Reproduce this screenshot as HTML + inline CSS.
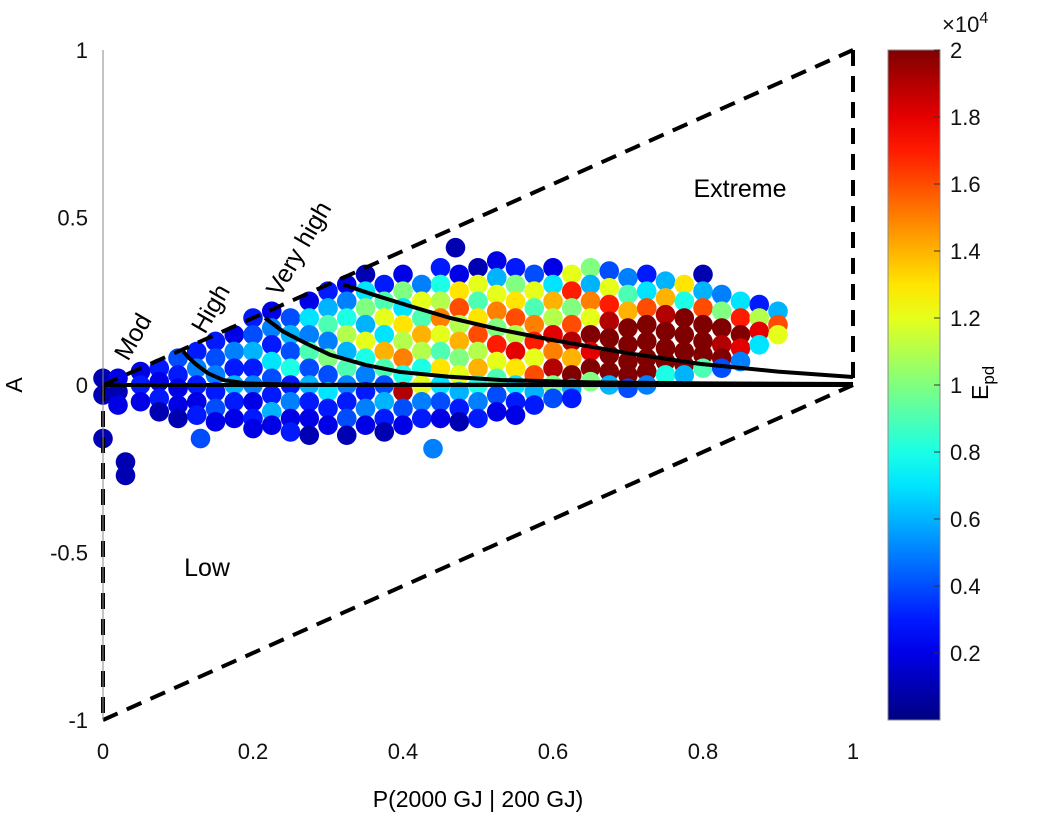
<!DOCTYPE html>
<html><head><meta charset="utf-8"><style>
html,body{margin:0;padding:0;background:#fff;}
svg{display:block;font-family:"Liberation Sans",Arial,sans-serif;}
</style></head><body>
<svg id="chart" width="1057" height="817" viewBox="0 0 1057 817">
<g id="dots"></g>
<g id="lines"></g>
<g id="axes"></g>
<g id="cbar"></g>
</svg>
<script>
const xTicks=[0,0.2,0.4,0.6,0.8,1];
const xTickLabels=["0","0.2","0.4","0.6","0.8","1"];
const yTicks=[-1,-0.5,0,0.5,1];
const yTickLabels=["-1","-0.5","0","0.5","1"];
const cbTicks=[0.2,0.4,0.6,0.8,1,1.2,1.4,1.6,1.8,2];
const cbTickLabels=["0.2","0.4","0.6","0.8","1","1.2","1.4","1.6","1.8","2"];
const curveMod=[[0.107,0.1],[0.115,0.08],[0.125,0.06],[0.14,0.035],[0.16,0.015],[0.19,0.005],[0.25,0.001],[1,0]];
const curveHigh=[[0.216,0.2],[0.24,0.16],[0.27,0.125],[0.303,0.09],[0.35,0.06],[0.396,0.039],[0.46,0.025],[0.53,0.015],[0.65,0.008],[0.8,0.005],[1,0.003]];
const curveVery=[[0.32,0.3],[0.36,0.27],[0.41,0.235],[0.463,0.2],[0.53,0.165],[0.6,0.134],[0.7,0.095],[0.796,0.063],[0.9,0.04],[1,0.024]];
const baseline=[[0,0],[1,0]];
const dashUpper=[[0,0],[1,1]];
const dashLower=[[0,-1],[1,0]];
const dashRight=[[1,1],[1,0]];
const dashLeft=[[0,0],[0,-1]];
const points=[
[0,0.02,0.1],[0,-0.03,0.1],[0,-0.16,0.1],[0.02,0.02,0.2],[0.02,-0.02,0.1],[0.02,-0.06,0.2],[0.03,-0.23,0.1],[0.03,-0.27,0.1],
[0.05,0.04,0.2],[0.05,0,0.3],[0.05,-0.05,0.2],
[0.075,0.05,0.3],[0.075,0.01,0.2],[0.075,-0.04,0.3],[0.075,-0.08,0.1],
[0.1,0.08,0.4],[0.1,0.03,0.3],[0.1,-0.01,0.2],[0.1,-0.06,0.2],[0.1,-0.1,0.1],
[0.125,0.1,0.3],[0.125,0.05,0.5],[0.125,0,0.3],[0.125,-0.05,0.2],[0.125,-0.09,0.3],[0.13,-0.16,0.4],
[0.15,0.13,0.3],[0.15,0.08,0.4],[0.15,0.03,0.5],[0.15,-0.02,0.3],[0.15,-0.07,0.4],[0.15,-0.11,0.2],
[0.175,0.15,0.2],[0.175,0.1,0.5],[0.175,0.05,0.3],[0.175,0,0.6],[0.175,-0.05,0.3],[0.175,-0.1,0.2],
[0.2,0.2,0.3],[0.2,0.15,0.4],[0.2,0.1,0.6],[0.2,0.05,0.3],[0.2,0,0.5],[0.2,-0.05,0.2],[0.2,-0.1,0.3],[0.2,-0.13,0.2],
[0.225,0.22,0.2],[0.225,0.17,0.5],[0.225,0.12,0.3],[0.225,0.07,0.7],[0.225,0.02,0.4],[0.225,-0.03,0.3],[0.225,-0.08,0.6],[0.225,-0.12,0.2],
[0.25,0.2,0.4],[0.25,0.15,0.6],[0.25,0.1,0.4],[0.25,0.05,0.8],[0.25,0,0.3],[0.25,-0.05,0.5],[0.25,-0.1,0.2],[0.25,-0.14,0.3],
[0.275,0.25,0.2],[0.275,0.2,0.7],[0.275,0.15,0.5],[0.275,0.1,0.9],[0.275,0.05,0.4],[0.275,0,0.6],[0.275,-0.05,0.3],[0.275,-0.1,0.2],[0.275,-0.15,0.1],
[0.3,0.28,0.3],[0.3,0.23,0.6],[0.3,0.18,0.9],[0.3,0.13,0.5],[0.3,0.08,1.0],[0.3,0.03,0.4],[0.3,-0.02,0.7],[0.3,-0.07,0.3],[0.3,-0.12,0.2],
[0.325,0.3,0.2],[0.325,0.25,0.5],[0.325,0.2,0.8],[0.325,0.15,1.1],[0.325,0.1,0.6],[0.325,0.05,0.9],[0.325,0,0.5],[0.325,-0.05,0.3],[0.325,-0.1,0.4],[0.325,-0.15,0.1],
[0.35,0.33,0.1],[0.35,0.28,0.7],[0.35,0.23,1.0],[0.35,0.18,0.6],[0.35,0.13,1.2],[0.35,0.08,0.8],[0.35,0.03,0.5],[0.35,-0.02,0.3],[0.35,-0.07,0.5],[0.35,-0.12,0.2],
[0.375,0.3,0.3],[0.375,0.25,0.9],[0.375,0.2,1.2],[0.375,0.15,0.7],[0.375,0.1,1.4],[0.375,0.05,0.9],[0.375,0,0.4],[0.375,-0.05,0.6],[0.375,-0.1,0.3],[0.375,-0.14,0.1],
[0.4,0.33,0.2],[0.4,0.28,1.0],[0.4,0.23,0.7],[0.4,0.18,1.3],[0.4,0.13,1.1],[0.4,0.08,1.5],[0.4,0.03,0.8],[0.4,-0.02,1.9],[0.4,-0.07,0.4],[0.4,-0.12,0.2],
[0.425,0.3,0.5],[0.425,0.25,1.2],[0.425,0.2,0.9],[0.425,0.15,1.4],[0.425,0.1,1.1],[0.425,0.05,0.8],[0.425,0,1.2],[0.425,-0.05,0.5],[0.425,-0.1,0.3],[0.44,-0.19,0.5],
[0.45,0.35,0.3],[0.45,0.3,0.8],[0.45,0.25,1.1],[0.45,0.2,1.5],[0.45,0.15,1.2],[0.45,0.1,0.9],[0.45,0.05,1.3],[0.45,0,0.7],[0.45,-0.05,0.4],[0.45,-0.1,0.2],[0.47,0.41,0.1],
[0.475,0.33,0.2],[0.475,0.28,1.3],[0.475,0.23,1.6],[0.475,0.18,1.1],[0.475,0.13,1.4],[0.475,0.08,1.0],[0.475,0.03,1.2],[0.475,-0.02,0.6],[0.475,-0.07,0.3],[0.475,-0.11,0.1],
[0.5,0.35,0.1],[0.5,0.3,1.2],[0.5,0.25,0.9],[0.5,0.2,1.3],[0.5,0.15,1.6],[0.5,0.1,1.1],[0.5,0.05,1.4],[0.5,0,0.8],[0.5,-0.05,0.5],[0.5,-0.1,0.3],
[0.525,0.37,0.2],[0.525,0.32,0.6],[0.525,0.27,1.2],[0.525,0.22,1.5],[0.525,0.17,1.0],[0.525,0.12,1.7],[0.525,0.07,1.2],[0.525,0.02,0.9],[0.525,-0.03,0.4],[0.525,-0.08,0.2],
[0.55,0.35,0.3],[0.55,0.3,1.0],[0.55,0.25,1.3],[0.55,0.2,1.6],[0.55,0.15,1.1],[0.55,0.1,1.8],[0.55,0.05,1.3],[0.55,0,0.7],[0.55,-0.05,0.3],[0.55,-0.09,0.2],
[0.575,0.33,0.4],[0.575,0.28,1.2],[0.575,0.23,0.9],[0.575,0.18,1.5],[0.575,0.13,1.7],[0.575,0.08,1.2],[0.575,0.03,1.6],[0.575,-0.02,0.6],[0.575,-0.06,0.3],
[0.6,0.35,0.2],[0.6,0.3,0.7],[0.6,0.25,1.4],[0.6,0.2,1.1],[0.6,0.15,1.8],[0.6,0.1,1.5],[0.6,0.05,1.9],[0.6,0,1.0],[0.6,-0.04,0.4],
[0.625,0.33,1.2],[0.625,0.28,1.7],[0.625,0.23,1.0],[0.625,0.18,1.6],[0.625,0.13,1.9],[0.625,0.08,1.4],[0.625,0.03,2.0],[0.625,-0.01,0.6],[0.625,-0.04,0.3],
[0.65,0.35,1.0],[0.65,0.3,0.6],[0.65,0.25,1.5],[0.65,0.2,1.2],[0.65,0.15,2.0],[0.65,0.1,1.8],[0.65,0.05,2.0],[0.65,0.01,1.0],
[0.675,0.34,0.4],[0.675,0.29,1.2],[0.675,0.24,1.7],[0.675,0.19,1.9],[0.675,0.14,2.0],[0.675,0.09,2.0],[0.675,0.04,2.0],[0.675,0,0.6],
[0.7,0.32,0.5],[0.7,0.27,0.9],[0.7,0.22,1.4],[0.7,0.17,2.0],[0.7,0.12,2.0],[0.7,0.07,2.0],[0.7,0.03,2.0],[0.7,-0.01,0.4],
[0.725,0.33,0.3],[0.725,0.28,0.7],[0.725,0.23,1.6],[0.725,0.18,2.0],[0.725,0.13,2.0],[0.725,0.08,2.0],[0.725,0.04,2.0],[0.725,0,0.5],
[0.75,0.31,0.6],[0.75,0.26,1.4],[0.75,0.21,1.9],[0.75,0.16,2.0],[0.75,0.11,2.0],[0.75,0.07,2.0],[0.75,0.03,0.8],
[0.775,0.3,1.3],[0.775,0.25,0.8],[0.775,0.2,2.0],[0.775,0.15,2.0],[0.775,0.1,2.0],[0.775,0.06,2.0],[0.775,0.03,0.6],
[0.8,0.33,0.1],[0.8,0.28,0.6],[0.8,0.23,1.6],[0.8,0.18,2.0],[0.8,0.13,2.0],[0.8,0.09,2.0],[0.8,0.05,0.9],
[0.825,0.27,0.5],[0.825,0.22,1.0],[0.825,0.17,2.0],[0.825,0.12,1.9],[0.825,0.08,2.0],[0.825,0.05,0.4],
[0.85,0.25,0.7],[0.85,0.2,1.7],[0.85,0.15,2.0],[0.85,0.11,1.8],[0.85,0.07,0.5],
[0.875,0.24,0.3],[0.875,0.2,1.1],[0.875,0.16,1.8],[0.875,0.12,0.7],
[0.9,0.22,0.6],[0.9,0.18,1.6],[0.9,0.15,1.2]
];

const NS="http://www.w3.org/2000/svg";
const X0=103,X1=853,Y1=50,Ym1=720;
function sx(v){return X0+(X1-X0)*v;}
function sy(v){return Ym1-(Ym1-Y1)*(v+1)/2;}
const CB0=720,CB1=50;
function scb(v){return CB0-(CB0-CB1)*v/2;}
function jet(t){t=Math.max(0,Math.min(1,t));
 function c(x){return Math.round(255*Math.max(0,Math.min(1,x)));}
 const r=c(Math.min(4*t-1.5,-4*t+4.5)),g=c(Math.min(4*t-0.5,-4*t+3.5)),b=c(Math.min(4*t+0.5,-4*t+2.5));
 return `rgb(${r},${g},${b})`;}
function mk(tag,attrs,parent){const e=document.createElementNS(NS,tag);for(const k in attrs)e.setAttribute(k,attrs[k]);parent.appendChild(e);return e;}

const dots=document.getElementById('dots');
points.forEach(p=>{
 const c=mk('circle',{cx:sx(p[0]),cy:sy(p[1]),r:9.8,fill:jet(p[2]/2)},dots);
 
 
});

const lines=document.getElementById('lines');
function poly(arr,dash,name){
 const pl=mk('polyline',{points:arr.map(p=>sx(p[0])+','+sy(p[1])).join(' '),fill:'none',stroke:'#000','stroke-width':4,'stroke-dasharray':dash||'none'},lines);
 
 
}
poly(dashUpper,'16,10','upper-dashed-boundary');
poly(dashLower,'16,10','lower-dashed-boundary');
poly(dashRight,'16,10','right-dashed-boundary');
poly(dashLeft,'16,10','left-dashed-boundary');
poly(baseline,null,'zero-line');
poly(curveMod,null,'mod-high-curve');
poly(curveHigh,null,'high-veryhigh-curve');
poly(curveVery,null,'veryhigh-extreme-curve');

const axes=document.getElementById('axes');
const ya=mk('line',{x1:X0,y1:Y1,x2:X0,y2:Ym1,stroke:'#888','stroke-width':1},axes);

xTicks.forEach((v,i)=>{const t=mk('text',{x:sx(v),y:759,'font-size':22,'text-anchor':'middle',fill:'#111'},axes);t.textContent=xTickLabels[i];
 });
yTicks.forEach((v,i)=>{const t=mk('text',{x:88,y:sy(v)+8,'font-size':22,'text-anchor':'end',fill:'#111'},axes);t.textContent=yTickLabels[i];
 });
function txt(s,x,y,size,rot,name,anchor){const t=mk('text',{x:x,y:y,'font-size':size,'text-anchor':anchor||'middle',fill:'#000',transform:rot?`rotate(${rot} ${x} ${y})`:''},axes);t.textContent=s;
 return t;}
txt('P(2000 GJ | 200 GJ)',478,807,23,0,'x-axis-title');
txt('A',22,385,23,-90,'y-axis-title');
txt('Extreme',740,197,25,0,'extreme-label');
txt('Low',207,576,25,0,'low-label');
txt('Mod',128,362,25,-60,'mod-label','start');
txt('High',205,335,25,-60,'high-label','start');
txt('Very high',280,298,25,-60,'very-high-label','start');

const cb=document.getElementById('cbar');
const defs=mk('defs',{},cb);
const lg=mk('linearGradient',{id:'jetg',x1:0,y1:1,x2:0,y2:0},defs);
for(let i=0;i<=20;i++){mk('stop',{offset:i/20,'stop-color':jet(i/20)},lg);}
const rect=mk('rect',{x:888,y:CB1,width:52,height:CB0-CB1,fill:'url(#jetg)',stroke:'#888','stroke-width':1},cb);

cbTicks.forEach((v,i)=>{
 mk('line',{x1:934,y1:scb(v),x2:940,y2:scb(v),stroke:'#333','stroke-width':1},cb);
 const t=mk('text',{x:950,y:scb(v)+8,'font-size':22,fill:'#111'},cb);t.textContent=cbTickLabels[i];
 });
const ex=mk('text',{x:942,y:32,'font-size':22,fill:'#111'},cb);
ex.innerHTML='×10<tspan dy="-9" font-size="16">4</tspan>';

const cl=mk('text',{x:988,y:400,'font-size':23,fill:'#000',transform:'rotate(-90 988 400)'},cb);
cl.innerHTML='E<tspan dy="6" font-size="17">pd</tspan>';

</script>
</body></html>
